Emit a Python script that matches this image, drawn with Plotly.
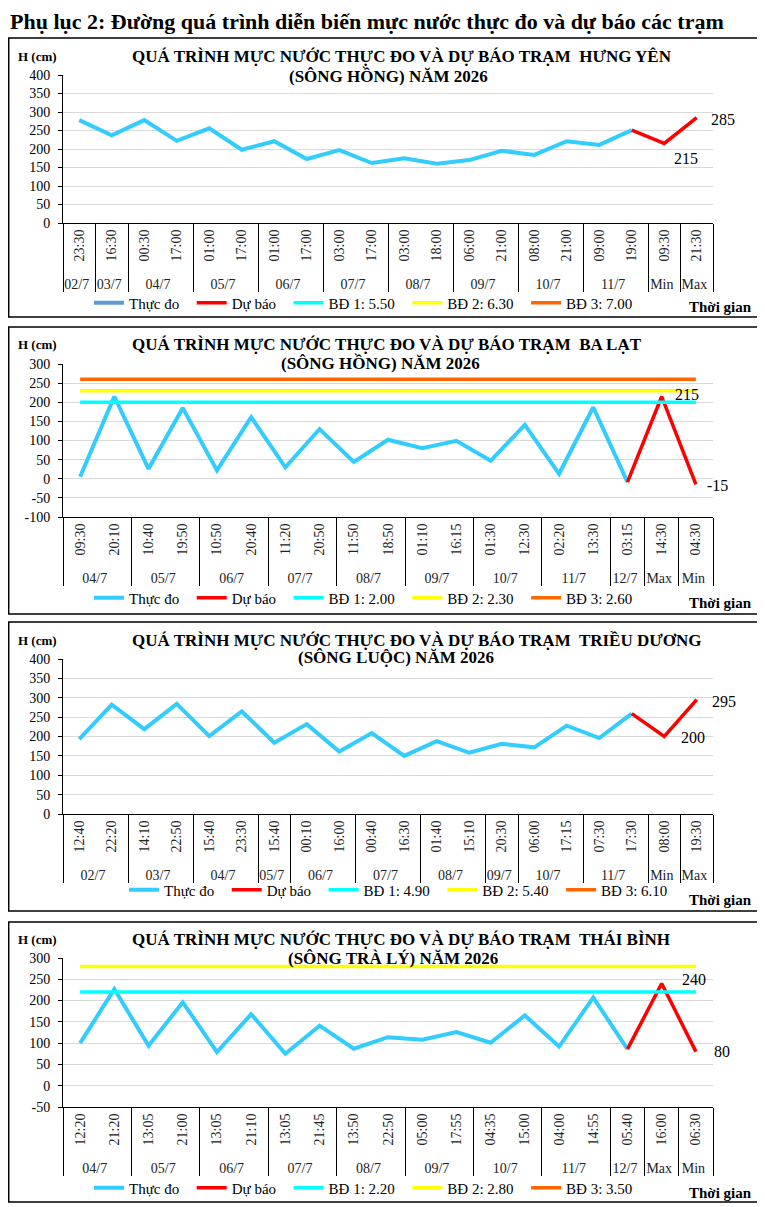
import plotly.graph_objects as go

FONT = "Liberation Serif"
OFF = 8                      # browser body margin around the figure
FW, FH = 765 - OFF, 1207 - OFF

OBS_COLOR = "#33CCFF"
FC_COLOR = "#FF0000"
BD_COLORS = ["#00FFFF", "#FFFF00", "#FF6600"]
NB = "\u00a0"

# ---- Trạm Hưng Yên (sông Hồng)
hy_dates = ["02/7", "03/7", "04/7", "04/7", "05/7", "05/7", "06/7", "06/7", "07/7", "07/7",
            "08/7", "08/7", "09/7", "09/7", "10/7", "10/7", "11/7", "11/7", "Min", "Max"]
hy_times = ["23:30", "16:30", "00:30", "17:00", "01:00", "17:00", "01:00", "17:00", "03:00", "17:00",
            "03:00", "18:00", "06:00", "21:00", "08:00", "21:00", "09:00", "19:00", "09:30", "21:30"]
hy_obs = [278, 237, 278, 222, 256, 198, 221, 173, 197, 162, 175, 160, 170, 195, 184, 221, 211, 251]
hy_fc = [251, 215, 285]
hy_bd = [550, 630, 700]
hy_bd_names = ["BĐ 1: 5.50", "BĐ 2: 6.30", "BĐ 3: 7.00"]

# ---- Trạm Ba Lạt (sông Hồng)
bl_dates = ["04/7", "04/7", "05/7", "05/7", "06/7", "06/7", "07/7", "07/7", "08/7", "08/7",
            "09/7", "09/7", "10/7", "10/7", "11/7", "11/7", "12/7", "Max", "Min"]
bl_times = ["09:30", "20:10", "10:40", "19:50", "10:50", "20:40", "11:20", "20:50", "11:50", "18:50",
            "01:10", "16:15", "01:30", "12:30", "02:20", "13:30", "03:15", "14:30", "04:30"]
bl_obs = [5, 215, 26, 185, 22, 161, 30, 130, 44, 102, 80, 99, 47, 141, 13, 187, -9]
bl_fc = [-9, 215, -15]
bl_bd = [200, 230, 260]
bl_bd_names = ["BĐ 1: 2.00", "BĐ 2: 2.30", "BĐ 3: 2.60"]

# ---- Trạm Triều Dương (sông Luộc)
td_dates = ["02/7", "02/7", "03/7", "03/7", "04/7", "04/7", "05/7", "06/7", "06/7", "07/7",
            "07/7", "08/7", "08/7", "09/7", "10/7", "10/7", "11/7", "11/7", "Min", "Max"]
td_times = ["12:40", "22:20", "14:10", "22:50", "15:40", "23:30", "15:40", "00:10", "16:00", "00:40",
            "16:30", "01:40", "15:10", "20:30", "06:00", "17:15", "07:30", "17:30", "08:00", "19:30"]
td_obs = [193, 282, 219, 284, 201, 265, 184, 232, 161, 209, 150, 188, 158, 181, 172, 228, 196, 259]
td_fc = [259, 200, 295]
td_bd = [490, 540, 610]
td_bd_names = ["BĐ 1: 4.90", "BĐ 2: 5.40", "BĐ 3: 6.10"]

# ---- Trạm Thái Bình (sông Trà Lý)
tb_dates = ["04/7", "04/7", "05/7", "05/7", "06/7", "06/7", "07/7", "07/7", "08/7", "08/7",
            "09/7", "09/7", "10/7", "10/7", "11/7", "11/7", "12/7", "Max", "Min"]
tb_times = ["12:20", "21:20", "13:05", "21:00", "13:05", "21:10", "13:05", "21:45", "13:50", "22:50",
            "05:00", "17:55", "04:35", "15:00", "04:00", "14:55", "05:40", "16:00", "06:30"]
tb_obs = [100, 227, 94, 196, 79, 168, 75, 141, 87, 114, 108, 126, 101, 165, 92, 207, 86]
tb_fc = [86, 240, 80]
tb_bd = [220, 280, 350]
tb_bd_names = ["BĐ 1: 2.20", "BĐ 2: 2.80", "BĐ 3: 3.50"]

# layout per panel, in pixels of the page
stations = [
    dict(dates=hy_dates, times=hy_times, obs=hy_obs, fc=hy_fc, bd=hy_bd, bd_names=hy_bd_names,
         yrange=[0, 400],
         title=("QUÁ TRÌNH MỰC NƯỚC THỰC ĐO VÀ DỰ BÁO TRẠM" + NB + " HƯNG YÊN", "(SÔNG HỒNG) NĂM 2026"),
         t2_x=389, lab_shift=[(8, -15), (12, -2)],
         box=(38, 317), plot=(75, 223), t_y=(57, 76), legend_x=99, legend_y=303, tg_y=307),
    dict(dates=bl_dates, times=bl_times, obs=bl_obs, fc=bl_fc, bd=bl_bd, bd_names=bl_bd_names,
         yrange=[-100, 300],
         title=("QUÁ TRÌNH MỰC NƯỚC THỰC ĐO VÀ DỰ BÁO TRẠM" + NB + " BA LẠT", "(SÔNG HỒNG) NĂM 2026"),
         t2_x=380, lab_shift=[(11, 2), (9, -1)],
         box=(327, 614), plot=(364, 517), t_y=(345, 363), legend_x=99, legend_y=598, tg_y=603),
    dict(dates=td_dates, times=td_times, obs=td_obs, fc=td_fc, bd=td_bd, bd_names=td_bd_names,
         yrange=[0, 400],
         title=("QUÁ TRÌNH MỰC NƯỚC THỰC ĐO VÀ DỰ BÁO TRẠM" + NB + " TRIỀU DƯƠNG", "(SÔNG LUỘC) NĂM 2026"),
         t2_x=396, lab_shift=[(15, -1), (13, -2)],
         box=(622, 911), plot=(659, 814), t_y=(640, 658), legend_x=134, legend_y=890, tg_y=900),
    dict(dates=tb_dates, times=tb_times, obs=tb_obs, fc=tb_fc, bd=tb_bd, bd_names=tb_bd_names,
         yrange=[-50, 300],
         title=("QUÁ TRÌNH MỰC NƯỚC THỰC ĐO VÀ DỰ BÁO TRẠM" + NB + " THÁI BÌNH", "(SÔNG TRÀ LÝ) NĂM 2026"),
         t2_x=393, lab_shift=[(18, 4), (16, 0)],
         box=(922, 1202), plot=(958, 1107), t_y=(939, 958), legend_x=99, legend_y=1188, tg_y=1193),
]


def px(x):
    return (x - OFF) / FW


def py(y):
    return 1 - (y - OFF) / FH


def unique_labels(labels):
    # repeated hours (17:00 on two days...) get invisible suffixes so plotly keeps the order
    seen = {}
    out = []
    for lab in labels:
        k = seen.get(lab, 0)
        seen[lab] = k + 1
        out.append(lab + "\u200b" * k)
    return out


fig = go.Figure()
shapes = []
annotations = []
txt = dict(family=FONT, color="black")

for i, st in enumerate(stations):
    n = i + 1
    xa = "x" if n == 1 else "x%d" % n
    ya = "y" if n == 1 else "y%d" % n
    lg = "legend" if n == 1 else "legend%d" % n
    nobs = len(st["obs"])
    ncat = len(st["times"])

    times = unique_labels(st["times"])
    x_obs = [st["dates"][:nobs], times[:nobs]]
    x_fc = [st["dates"][nobs - 1:], times[nobs - 1:]]
    x_all = [st["dates"], times]

    # Thực đo (panel 1 legend swatch is a darker blue in the original)
    fig.add_trace(go.Scatter(x=x_obs, y=st["obs"], mode="lines", name="Thực đo" + NB * 2,
                             line=dict(color=OBS_COLOR, width=4), xaxis=xa, yaxis=ya,
                             legend=lg, showlegend=(n != 1)))
    if n == 1:
        fig.add_trace(go.Scatter(x=[None], y=[None], mode="lines", name="Thực đo" + NB * 2,
                                 line=dict(color="#5B9BD5", width=4), xaxis=xa, yaxis=ya,
                                 legend=lg))
    # Dự báo
    fig.add_trace(go.Scatter(x=x_fc, y=st["fc"], mode="lines", name="Dự báo" + NB * 2,
                             line=dict(color=FC_COLOR, width=3.5),
                             xaxis=xa, yaxis=ya, legend=lg))
    # Báo động
    for lvl, nm, col in zip(st["bd"], st["bd_names"], BD_COLORS):
        fig.add_trace(go.Scatter(x=x_all, y=[lvl] * ncat, mode="lines", name=nm + NB * 2,
                                 line=dict(color=col, width=3.5), xaxis=xa, yaxis=ya, legend=lg))

    # forecast min / max values
    for k, (dx, dy) in zip([ncat - 2, ncat - 1], st["lab_shift"]):
        v = st["fc"][k - ncat + 3]
        annotations.append(dict(text=str(v), xref=xa, yref=ya, x=k, y=v, xanchor="left",
                                yanchor="middle", xshift=dx, yshift=dy, showarrow=False,
                                font=dict(size=16, **txt)))

    ticks = list(range(st["yrange"][0], st["yrange"][1] + 1, 50))
    top, bot = st["plot"]
    fig.layout[xa.replace("x", "xaxis")] = dict(
        type="multicategory", domain=[px(63), px(713)], anchor=ya, range=[-0.5, ncat - 0.5],
        showline=True, linecolor="black", linewidth=1, showgrid=False, automargin=False,
        showdividers=True, dividercolor="black", dividerwidth=1,
        tickangle=-90, ticks="", tickfont=dict(family=FONT, size=14, color="#222"),
    )
    fig.layout[ya.replace("y", "yaxis")] = dict(
        domain=[py(bot), py(top)], anchor=xa, range=st["yrange"],
        tickvals=ticks, ticktext=[str(t) for t in ticks], automargin=False,
        showline=True, linecolor="black", linewidth=1, ticks="outside", ticklen=4,
        ticklabelstandoff=5, tickcolor="black", gridcolor="#D9D9D9", gridwidth=1,
        zeroline=False, tickfont=dict(size=14, **txt),
    )
    fig.layout[lg] = dict(orientation="h", xref="container", yref="container",
                          x=px(st["legend_x"] - 10), y=py(st["legend_y"]),
                          xanchor="left", yanchor="middle", bgcolor="rgba(0,0,0,0)",
                          font=dict(size=15, **txt), itemwidth=30, traceorder="normal")

    b0, b1 = st["box"]
    shapes.append(dict(type="rect", xref="paper", yref="paper", x0=px(8.7), x1=px(760),
                       y0=py(b1), y1=py(b0), line=dict(color="black", width=1.5)))
    annotations.append(dict(text="<b>" + st["title"][0] + "</b>", xref="paper", yref="paper",
                            x=px(130), y=py(st["t_y"][0]), xanchor="left", yanchor="middle",
                            showarrow=False, font=dict(size=17, **txt)))
    annotations.append(dict(text="<b>" + st["title"][1] + "</b>", xref="paper", yref="paper",
                            x=px(st["t2_x"]), y=py(st["t_y"][1]), xanchor="center",
                            yanchor="middle", showarrow=False, font=dict(size=17, **txt)))
    annotations.append(dict(text="<b>H (cm)</b>", xref="paper", yref="paper",
                            x=px(16), y=py(st["t_y"][0]), xanchor="left", yanchor="middle",
                            showarrow=False, font=dict(size=13, **txt)))
    annotations.append(dict(text="<b>Thời gian</b>", xref="paper", yref="paper",
                            x=px(754), y=py(st["tg_y"]), xanchor="right", yanchor="middle",
                            showarrow=False, font=dict(size=15, **txt)))

annotations.append(dict(text="<b>Phụ lục 2: Đường quá trình diễn biến mực nước thực đo và dự báo các trạm</b>",
                        xref="paper", yref="paper", x=px(8), y=py(22), xanchor="left",
                        yanchor="middle", showarrow=False, font=dict(size=22, **txt)))

fig.update_layout(width=FW, height=FH, margin=dict(l=0, r=0, t=0, b=0, autoexpand=False),
                  paper_bgcolor="white", plot_bgcolor="white",
                  shapes=shapes, annotations=annotations)

fig.write_html("out.html")
